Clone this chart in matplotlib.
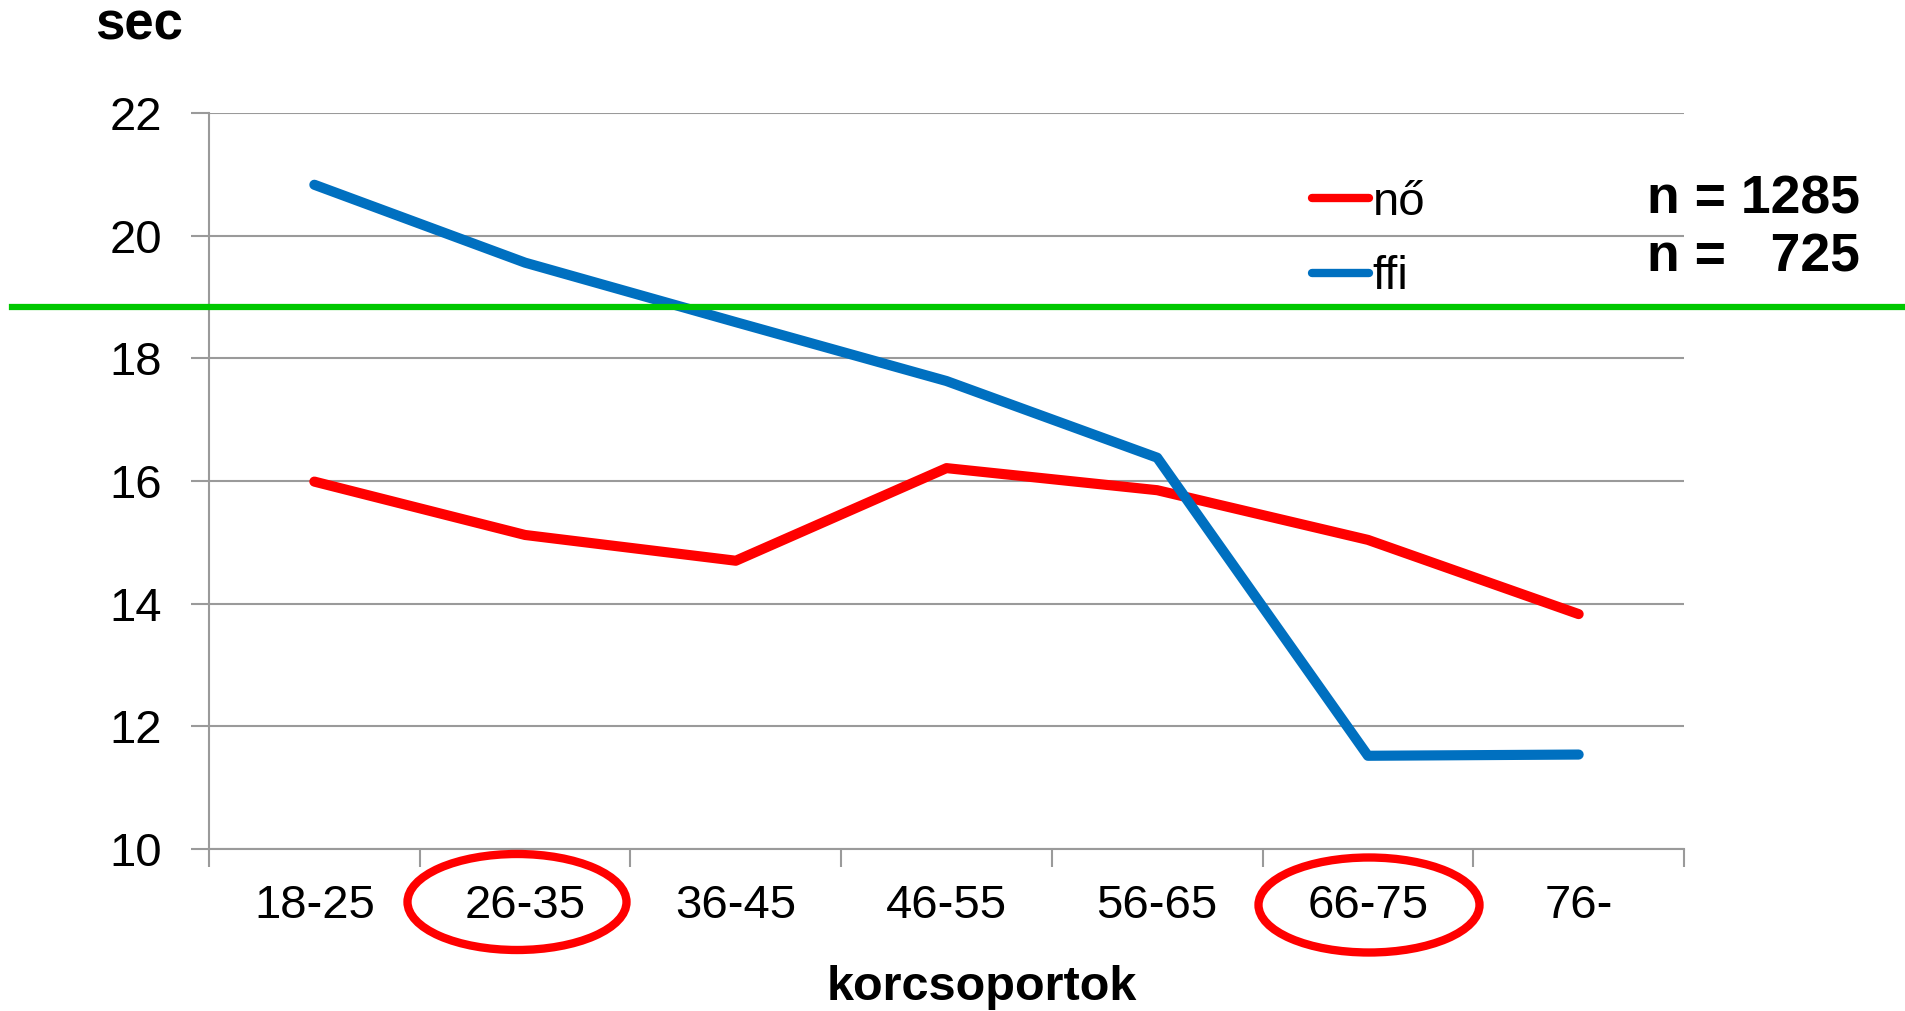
import numpy as np
import matplotlib.pyplot as plt
from matplotlib.patches import Ellipse

plt.rcParams['font.family'] = ['Liberation Sans', 'DejaVu Sans']

# korcsoportok (age groups)
groups = ['18-25', '26-35', '36-45', '46-55', '56-65', '66-75', '76-']
no_vals = [15.99, 15.12, 14.70, 16.21, 15.85, 15.04, 13.83]
ffi_vals = [20.83, 19.56, 18.59, 17.63, 16.38, 11.52, 11.54]
ref_level = 18.83
y_ticks = [10, 12, 14, 16, 18, 20, 22]
n_labels = ['n = 1285', 'n =   725']

W, H = 1906, 1011
fig = plt.figure(figsize=(W / 100, H / 100), dpi=100)
ax = fig.add_axes([209 / W, 1 - 849 / H, (1684 - 209) / W, (849 - 113) / H])

x = np.arange(len(groups))
ax.plot(x, no_vals, color='#ff0000', lw=7.3, solid_capstyle='round', solid_joinstyle='round', label='nő', zorder=3)
ax.plot(x, ffi_vals, color='#0070c0', lw=7.3, solid_capstyle='round', solid_joinstyle='round', label='ffi', zorder=3)

ax.set_xlim(-0.5, len(groups) - 0.5)
ax.set_ylim(10, 22)
ax.set_yticks(y_ticks)
ax.grid(axis='y', color='#9a9a9a', lw=1.5)
ax.set_axisbelow(True)

# category boundaries get tick marks, labels sit at the centres
ax.set_xticks(np.arange(-0.5, len(groups), 1))
ax.set_xticklabels([])
ax.set_xticks(x, minor=True)
ax.set_xticklabels(groups, minor=True)
ax.tick_params(axis='x', which='major', length=13, width=1.5, color='#9a9a9a', direction='out')
ax.tick_params(axis='x', which='minor', length=0, pad=25, labelsize=34)
ax.tick_params(axis='y', length=13, width=1.5, color='#9a9a9a', pad=21, labelsize=34)

for s in ['top', 'right']:
    ax.spines[s].set_visible(False)
for s in ['left', 'bottom']:
    ax.spines[s].set_color('#9a9a9a')
    ax.spines[s].set_linewidth(1.5)

# green reference line running across the whole figure
ax.axhline(ref_level, xmin=(12 - 209) / 1475, xmax=1 + (W - 1684) / 1475,
           color='#00c800', lw=4.5, clip_on=False, zorder=4)

leg = ax.legend(loc='upper left', bbox_to_anchor=(1312 / W, 1 - 181 / H),
                bbox_transform=fig.transFigure, frameon=False, fontsize=34,
                handlelength=1.2, handletextpad=0.08, labelspacing=0.64,
                borderaxespad=0, borderpad=0)
for line in leg.get_lines():
    line.set_linewidth(6)
    line.set_solid_capstyle('round')

fig.text(1647 / W, 1 - 213 / H, n_labels[0], fontsize=38.5, fontweight='bold', va='baseline')
fig.text(1647 / W, 1 - 272 / H, n_labels[1], fontsize=38.5, fontweight='bold', va='baseline')

fig.text(95 / W, 1 - 40 / H, 'sec', fontsize=38, fontweight='bold', va='baseline')
fig.text(982 / W, 1 - 1000 / H, 'korcsoportok', fontsize=35, fontweight='bold', ha='center', va='baseline')

# red circles around two age groups
for cx, cy, w, h in [(517, 902, 219, 96), (1369, 905, 221, 95)]:
    fig.patches.append(Ellipse((cx / W, 1 - cy / H), w / W, h / H, transform=fig.transFigure,
                               fill=False, edgecolor='#ff0000', lw=6))

fig.savefig('out.png', dpi=100)
